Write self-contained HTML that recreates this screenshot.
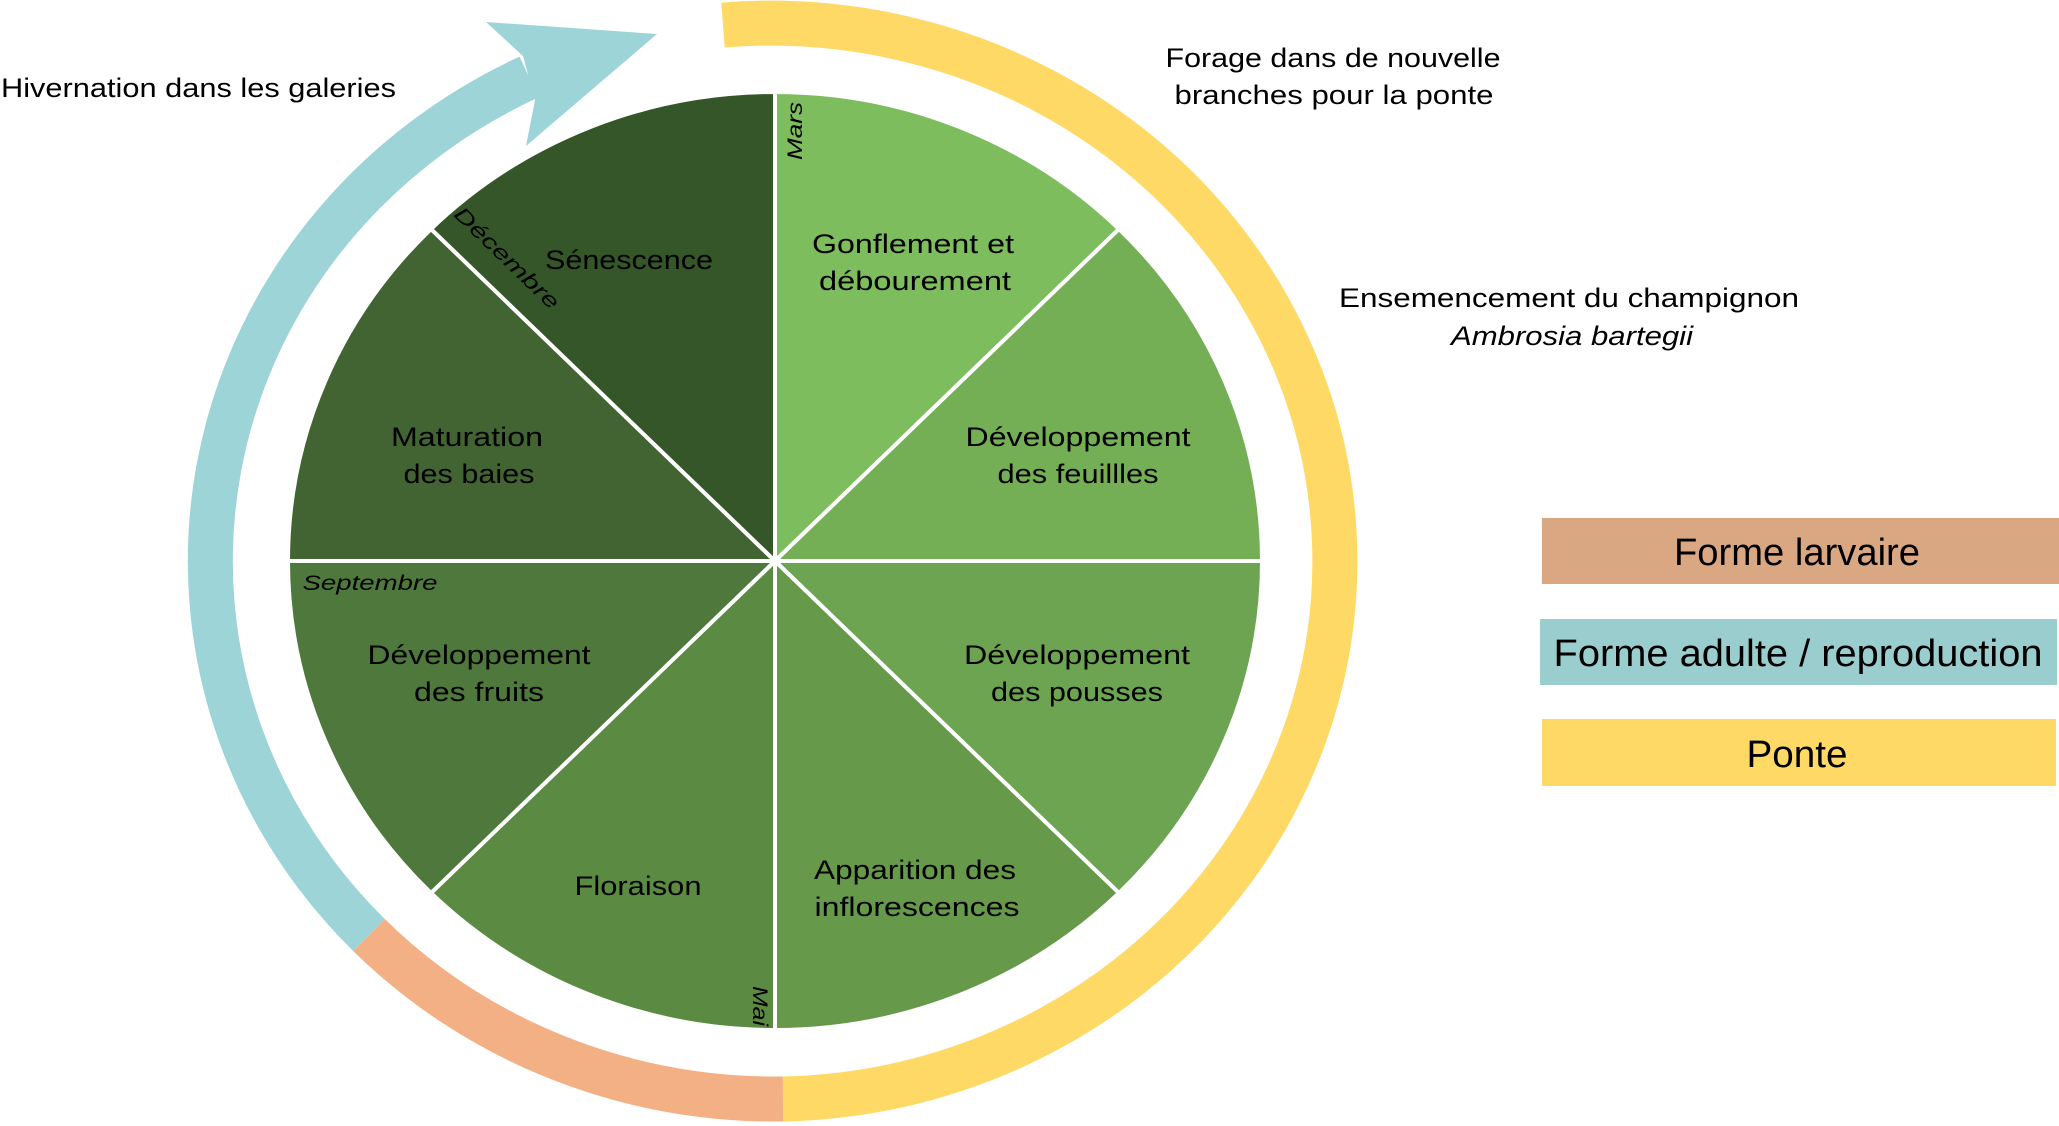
<!DOCTYPE html>
<html><head><meta charset="utf-8"><style>
html,body{margin:0;padding:0;background:#fff;}
svg{display:block;}
text{font-family:"Liberation Sans",sans-serif;fill:#000;}
</style></head><body>
<svg width="2059" height="1126" viewBox="0 0 2059 1126" xmlns="http://www.w3.org/2000/svg">
<!-- outer ring -->
<g fill="none" stroke-width="45">
<path d="M723,25 A565,538 0 1 1 783,1099" stroke="#FED966"/>
<path d="M783,1099 A565,538 0 0 1 369,935" stroke="#F3B084"/>
<path d="M369,935 A565,538 0 0 1 529,77" stroke="#9DD4D8"/>
</g>
<polygon points="486,22 657,34 526,146 535,100 523,56" fill="#9DD4D8"/>
<!-- pie -->
<g stroke="#fff" stroke-width="4" stroke-linejoin="round">
<path d="M775,561 L775,92 A487,469 0 0 1 1119,229 Z" fill="#7EBD5E"/>
<path d="M775,561 L1119,229 A487,469 0 0 1 1262,561 Z" fill="#74AF55"/>
<path d="M775,561 L1262,561 A487,469 0 0 1 1119,893 Z" fill="#6DA451"/>
<path d="M775,561 L1119,893 A487,469 0 0 1 775,1030 Z" fill="#66994A"/>
<path d="M775,561 L775,1030 A487,469 0 0 1 431,893 Z" fill="#5B8A43"/>
<path d="M775,561 L431,893 A487,469 0 0 1 288,561 Z" fill="#4F783C"/>
<path d="M775,561 L288,561 A487,469 0 0 1 431,229 Z" fill="#426432"/>
<path d="M775,561 L431,229 A487,469 0 0 1 775,92 Z" fill="#355629"/>
</g>
<g font-size="27" text-anchor="middle" lengthAdjust="spacingAndGlyphs">
<text x="913" y="253" textLength="202" lengthAdjust="spacingAndGlyphs">Gonflement et</text>
<text x="915" y="290" textLength="192" lengthAdjust="spacingAndGlyphs">débourement</text>
<text x="1078" y="446" textLength="225" lengthAdjust="spacingAndGlyphs">Développement</text>
<text x="1078" y="483" textLength="161" lengthAdjust="spacingAndGlyphs">des feuillles</text>
<text x="1077" y="664" textLength="226" lengthAdjust="spacingAndGlyphs">Développement</text>
<text x="1077" y="701" textLength="172" lengthAdjust="spacingAndGlyphs">des pousses</text>
<text x="915" y="879" textLength="202" lengthAdjust="spacingAndGlyphs">Apparition des</text>
<text x="917" y="916" textLength="205" lengthAdjust="spacingAndGlyphs">inflorescences</text>
<text x="638" y="895" textLength="127" lengthAdjust="spacingAndGlyphs">Floraison</text>
<text x="479" y="664" textLength="223" lengthAdjust="spacingAndGlyphs">Développement</text>
<text x="479" y="701" textLength="130" lengthAdjust="spacingAndGlyphs">des fruits</text>
<text x="467" y="446" textLength="152" lengthAdjust="spacingAndGlyphs">Maturation</text>
<text x="469" y="483" textLength="131" lengthAdjust="spacingAndGlyphs">des baies</text>
<text x="629" y="269" textLength="168" lengthAdjust="spacingAndGlyphs">Sénescence</text>
</g>
<g font-size="21" font-style="italic" text-anchor="middle">
<text x="0" y="0" transform="translate(802,131) rotate(-90)" textLength="58" lengthAdjust="spacingAndGlyphs">Mars</text>
<text x="0" y="0" transform="translate(502,263) rotate(44)" textLength="137" lengthAdjust="spacingAndGlyphs">Décembre</text>
<text x="370" y="590" textLength="135" lengthAdjust="spacingAndGlyphs">Septembre</text>
<text x="0" y="0" transform="translate(753,1006) rotate(90)" textLength="40" lengthAdjust="spacingAndGlyphs">Mai</text>
</g>
<g font-size="27">
<text x="1" y="97" textLength="395" lengthAdjust="spacingAndGlyphs">Hivernation dans les galeries</text>
<text x="1333" y="67" text-anchor="middle" textLength="335" lengthAdjust="spacingAndGlyphs">Forage dans de nouvelle</text>
<text x="1334" y="104" text-anchor="middle" textLength="319" lengthAdjust="spacingAndGlyphs">branches pour la ponte</text>
<text x="1569" y="307" text-anchor="middle" textLength="460" lengthAdjust="spacingAndGlyphs">Ensemencement du champignon</text>
<text x="1572" y="345" text-anchor="middle" font-style="italic" textLength="242" lengthAdjust="spacingAndGlyphs">Ambrosia bartegii</text>
</g>
<!-- legend -->
<rect x="1542" y="518" width="517" height="66" fill="#D9A883"/>
<rect x="1540" y="619" width="517" height="66" fill="#9ACDCE"/>
<rect x="1542" y="719" width="514" height="67" fill="#FED966"/>
<g font-size="38" text-anchor="middle">
<text x="1797" y="565" textLength="246" lengthAdjust="spacingAndGlyphs">Forme larvaire</text>
<text x="1798" y="666" textLength="489" lengthAdjust="spacingAndGlyphs">Forme adulte / reproduction</text>
<text x="1797" y="767" textLength="101" lengthAdjust="spacingAndGlyphs">Ponte</text>
</g>
</svg>
</body></html>
